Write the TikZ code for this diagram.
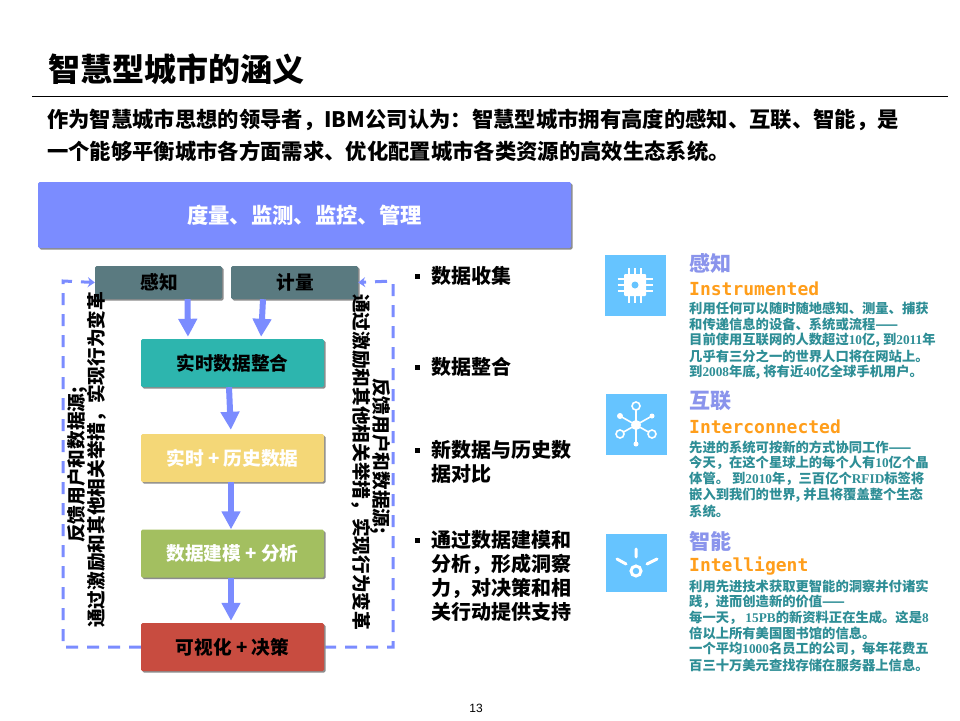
\documentclass[tikz,border=0pt]{standalone}
\usepackage{fontspec}
\setmainfont{Noto Sans CJK SC}
\newfontfamily\serlat{Liberation Serif}
\newfontfamily\monolat{DejaVu Sans Mono}
\newfontfamily\sanslat{Liberation Sans}
\usetikzlibrary{arrows.meta,calc}
\definecolor{arrowblue}{HTML}{7B8CFF}
\definecolor{topblue}{HTML}{7B8CFF}
\definecolor{slatebox}{HTML}{5A7A80}
\definecolor{tealbox}{HTML}{2DB5AE}
\definecolor{yellowbox}{HTML}{F4D777}
\definecolor{greenbox}{HTML}{A3BF60}
\definecolor{redbox}{HTML}{C84C40}
\definecolor{iconblue}{HTML}{66C4FF}
\definecolor{headblue}{HTML}{8A94EC}
\definecolor{bodyteal}{HTML}{2E8E96}
\definecolor{orangetxt}{HTML}{FF9E1B}
\newcommand{\fs}[1]{\fontsize{#1}{#1}\selectfont}
\newcommand{\dg}[1]{{\serlat #1}}
\tikzset{
  x=1pt,y=-1pt,
  flowbox/.style={minimum width=183pt,minimum height=48pt,rounded corners=1.5pt,inner sep=0pt,font=\fs{18.67}\bfseries,
    drop shadow box},
  drop shadow box/.style={preaction={draw=none,fill=black!45,transform canvas={xshift=1.5pt,yshift=-1.5pt}}},
  senseBox/.style={flowbox,minimum width=127pt,minimum height=33pt,fill=slatebox,text=black},
  blockarrow/.style={draw=arrowblue,line width=6pt,-{Triangle[width=18pt,length=18pt]}},
  feedback/.style={draw=arrowblue,line width=3pt,dash pattern=on 12pt off 9pt,-{Stealth[length=7pt,width=10pt]}},
  vertlabel/.style={font=\fs{18.67}\bfseries,inner sep=0pt,anchor=west,text=black},
  bullettxt/.style={font=\fs{20}\bfseries,inner sep=0pt,anchor=north west,align=left,text=black},
  bulletmark/.style={fill=black,minimum size=5pt,inner sep=0pt},
  icon/.style={fill=iconblue,minimum width=61pt,minimum height=61pt,inner sep=0pt},
  headtxt/.style={font=\fs{21}\bfseries,text=headblue,inner sep=0pt,anchor=west},
  engtxt/.style={font=\fs{18}\monolat\bfseries,text=orangetxt,inner sep=0pt,anchor=west},
  bodytxt/.style={font=\fs{13.3}\bfseries,text=bodyteal,inner sep=0pt,anchor=west},
  iconline/.style={draw=white,line width=1.6pt},
}
\begin{document}
\begin{tikzpicture}
\useasboundingbox (0,0) rectangle (960,720);
\fill[white] (0,0) rectangle (960,720);
% title
\node[font=\fs{32}\bfseries,inner sep=0pt,anchor=west] (title) at (48,69) {智慧型城市的涵义};
\coordinate (ruleL) at (32,96); \coordinate (ruleR) at (948,96);
\draw[line width=1pt] (ruleL) -- (ruleR);
\node[font=\fs{21.33}\bfseries,inner sep=0pt,anchor=west] (sub1) at (47,120) {作为智慧城市思想的领导者，IBM公司认为：智慧型城市拥有高度的感知、互联、智能，是};
\node[font=\fs{21.33}\bfseries,inner sep=0pt,anchor=west] (sub2) at (47,151) {一个能够平衡城市各方面需求、优化配置城市各类资源的高效生态系统。};
% top box
\node[flowbox,minimum width=533pt,minimum height=66pt,fill=topblue,text=white,font=\fs{21.33}\bfseries] (top) at (304.5,215) {\raisebox{-3pt}{度量、监测、监控、管理}};
% feedback dashed
\coordinate (dl) at (141,647); \coordinate (dr) at (324,647);
\coordinate (cbl) at (63,647); \coordinate (ctl) at (63,281);
\coordinate (cbr) at (393,647); \coordinate (ctr) at (393,281);
\node[senseBox] (gz) at (158.5,282.5) {\raisebox{-1pt}{\kern2pt 感知}};
\node[senseBox] (jl) at (294.5,282.5) {\raisebox{-1pt}{\kern2pt 计量}};
\draw[feedback] (dl) -- (cbl) -- (ctl) -- (gz.west);
\draw[feedback] (dr) -- (cbr) -- (ctr) -- (jl.east);
% flow boxes
\node[flowbox,fill=tealbox,text=black] (zh) at (232.5,363) {实时数据整合};
\node[flowbox,fill=yellowbox,text=white] (ls) at (232.5,458) {实时 + 历史数据};
\node[flowbox,fill=greenbox,text=white] (jm) at (232.5,553.5) {数据建模 + 分析};
\node[flowbox,fill=redbox,text=black] (ks) at (232.5,647) {可视化 + 决策};
\draw[blockarrow,shorten >=2pt] ([xshift=29pt]gz.south) -- ([xshift=-44.5pt]zh.north);
\draw[blockarrow,shorten >=2pt] ([xshift=-31.5pt]jl.south) -- ([xshift=28.5pt]zh.north);
\draw[blockarrow,shorten >=4pt] ([xshift=-3.5pt]zh.south) -- ([xshift=-1.5pt]ls.north);
\draw[blockarrow] ([xshift=-1.5pt]ls.south) -- ([xshift=-1.5pt]jm.north);
\draw[blockarrow,shorten >=2pt] ([xshift=-1.5pt]jm.south) -- ([xshift=-1.5pt]ks.north);
% vertical labels
\node[vertlabel,rotate=90] (l1) at (78,543) {反馈用户和数据源;};
\node[vertlabel,rotate=90] (l2) at (97,628) {通过激励和其他相关举措，实现行为变革};
\node[vertlabel,rotate=-90] (r1) at (380,378) {反馈用户和数据源;};
\node[vertlabel,rotate=-90] (r2) at (361,294) {通过激励和其他相关举措，实现行为变革};
% bullets
\node[bulletmark] (b1) at (417,276) {};
\node[bullettxt,anchor=west] (t1) at (431,276) {数据收集};
\node[bulletmark] (b2) at (417,367) {};
\node[bullettxt,anchor=west] (t2) at (431,367) {数据整合};
\node[bulletmark] (b3) at (417,450) {};
\node[bullettxt,anchor=west] (t3a) at (431,450) {新数据与历史数};
\node[bullettxt,anchor=west] (t3b) at (431,474) {据对比};
\node[bulletmark] (b4) at (417,540) {};
\node[bullettxt,anchor=west] (t4a) at (431,540) {通过数据建模和};
\node[bullettxt,anchor=west] (t4b) at (431,564) {分析，形成洞察};
\node[bullettxt,anchor=west] (t4c) at (431,588) {力，对决策和相};
\node[bullettxt,anchor=west] (t4d) at (431,612) {关行动提供支持};
% icon 1
\node[icon] (ic1) at (635.5,285.5) {};
\foreach \d in {-6,0,6}{
  \draw[iconline] (635+\d,268) -- (635+\d,303);
  \draw[iconline] (617.5,285+\d) -- (652.5,285+\d);
}
\fill[white,rounded corners=1pt] (624,274) rectangle (646,296);
\fill[iconblue] (635,285) circle (3.5);
% icon 2
\node[icon] (ic2) at (636.5,424) {};
\foreach \a/\b in {636/406,636/444,620/416,652/416,620/434,652/434}{\draw[iconline] (636,425) -- (\a,\b);}
\fill[white] (636,425) circle (5);
\filldraw[draw=white,line width=1.6pt,fill=iconblue] (636,406) circle (4);
\filldraw[draw=white,line width=1.6pt,fill=iconblue] (620,434) circle (4);
\filldraw[draw=white,line width=1.6pt,fill=iconblue] (652,434) circle (4);
\fill[white] (636,444) circle (2.5) (620,416) circle (3) (652,416) circle (2.5);
% icon 3
\node[icon,minimum height=58pt] (ic3) at (636.5,563) {};
\draw[draw=white,line width=3pt] (636,571) circle (5);
\draw[draw=white,line width=3pt,line cap=round] (636,549) -- (636,557) (617,559) -- (626,564) (657,559) -- (647,564);
% right text 1
\node[headtxt] (h1) at (689,263) {感知};
\node[engtxt] (e1) at (689,289) {Instrumented};
\node[bodytxt] (a1) at (689,308) {利用任何可以随时随地感知、测量、捕获};
\node[bodytxt] (a2) at (689,324) {和传递信息的设备、系统或流程——};
\node[bodytxt] (a3) at (689,340) {目前使用互联网的人数超过\dg{10}亿, 到\dg{2011}年};
\node[bodytxt] (a4) at (689,356) {几乎有三分之一的世界人口将在网站上。};
\node[bodytxt] (a5) at (689,372) {到\dg{2008}年底, 将有近\dg{40}亿全球手机用户。};
% right text 2
\node[headtxt] (h2) at (689,401) {互联};
\node[engtxt] (e2) at (689,427) {Interconnected};
\node[bodytxt] (c1) at (689,447) {先进的系统可按新的方式协同工作——};
\node[bodytxt] (c2) at (689,463) {今天，在这个星球上的每个人有\dg{10}亿个晶};
\node[bodytxt] (c3) at (689,479) {体管。 到\dg{2010}年，三百亿个\dg{RFID}标签将};
\node[bodytxt] (c4) at (689,495) {嵌入到我们的世界, 并且将覆盖整个生态};
\node[bodytxt] (c5) at (689,511) {系统。};
% right text 3
\node[headtxt] (h3) at (689,541) {智能};
\node[engtxt] (e3) at (689,566) {Intelligent};
\node[bodytxt] (d1) at (689,586) {利用先进技术获取更智能的洞察并付诸实};
\node[bodytxt] (d2) at (689,602) {践，进而创造新的价值——};
\node[bodytxt] (d3) at (689,618) {每一天， \dg{15PB}的新资料正在生成。这是\dg{8}};
\node[bodytxt] (d4) at (689,633) {倍以上所有美国图书馆的信息。};
\node[bodytxt] (d5) at (689,649) {一个平均\dg{1000}名员工的公司，每年花费五};
\node[bodytxt] (d6) at (689,665) {百三十万美元查找存储在服务器上信息。};
% page number
\node[font=\fs{12}\sanslat,inner sep=0pt] (pg) at (476,708) {13};
\end{tikzpicture}
\end{document}
